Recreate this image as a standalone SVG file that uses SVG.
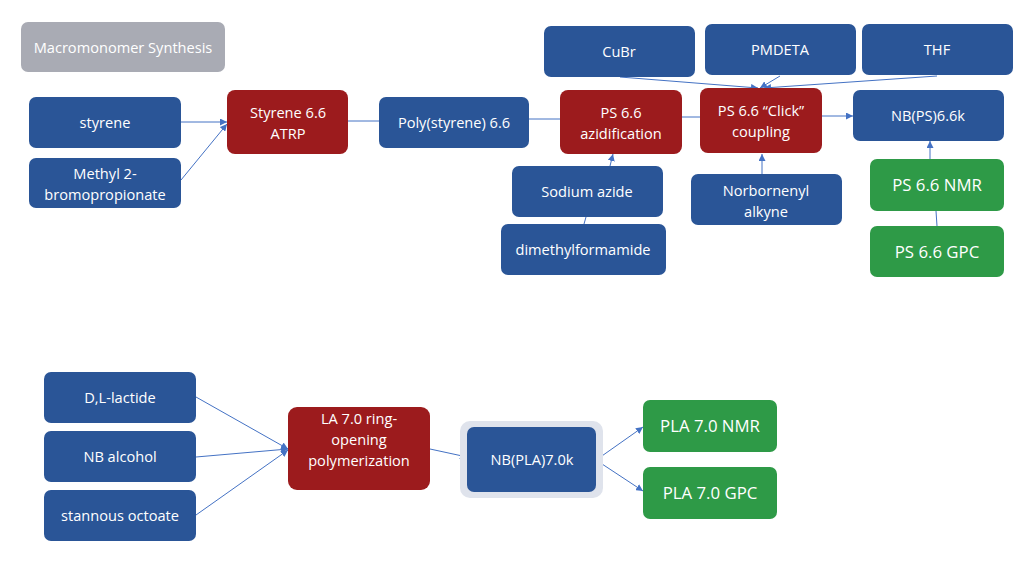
<svg xmlns="http://www.w3.org/2000/svg" width="1024" height="576" viewBox="0 0 1024 576">
<defs>
<style>
.b{fill:#2a5597}
.r{fill:#9c1b1d}
.g{fill:#2e9a47}
.gr{fill:#a9abb4}
text{font-family:"Open Sans","Liberation Sans",sans-serif;font-size:14.6px;fill:#fff;text-anchor:middle}
.big{font-size:16.8px}
.c line{stroke:#4472c4;stroke-width:1}
</style>
<marker id="a" viewBox="0 0 10 10" refX="10" refY="5" markerWidth="7" markerHeight="7" orient="auto" markerUnits="userSpaceOnUse"><path d="M0,0L10,5L0,10z" fill="#4472c4"/></marker>
</defs>
<rect width="1024" height="576" fill="#fff"/>
<g class="c">
<line x1="181" y1="122" x2="227" y2="122" marker-end="url(#a)"/>
<line x1="181" y1="180" x2="227" y2="124" marker-end="url(#a)"/>
<line x1="348" y1="121" x2="379" y2="121"/>
<line x1="529" y1="119" x2="560" y2="119"/>
<line x1="682" y1="117" x2="700" y2="117"/>
<line x1="822" y1="116" x2="853" y2="116" marker-end="url(#a)"/>
<line x1="620" y1="77" x2="758" y2="88" marker-end="url(#a)"/>
<line x1="780" y1="76" x2="760" y2="88" marker-end="url(#a)"/>
<line x1="937" y1="76" x2="764" y2="88" marker-end="url(#a)"/>
<line x1="610" y1="166" x2="613" y2="154" marker-end="url(#a)"/>
<line x1="584" y1="224" x2="586" y2="217"/>
<line x1="762" y1="174" x2="762" y2="154" marker-end="url(#a)"/>
<line x1="930" y1="159" x2="930" y2="141" marker-end="url(#a)"/>
<line x1="937" y1="226" x2="936" y2="211"/>
<line x1="196" y1="397" x2="288" y2="449" marker-end="url(#a)"/>
<line x1="196" y1="457" x2="288" y2="449" marker-end="url(#a)"/>
<line x1="196" y1="515" x2="288" y2="450" marker-end="url(#a)"/>
<line x1="430" y1="449" x2="467" y2="457" marker-end="url(#a)"/>
<line x1="599" y1="458" x2="643" y2="427" marker-end="url(#a)"/>
<line x1="599" y1="462" x2="643" y2="491" marker-end="url(#a)"/>
</g>
<g id="title"><rect class="gr" x="21" y="22" width="204" height="50" rx="7"/><text x="123" y="53">Macromonomer Synthesis</text></g>
<g id="styrene"><rect class="b" x="29" y="97" width="152" height="51" rx="7"/><text x="105" y="128">styrene</text></g>
<g id="methyl"><rect class="b" x="29" y="158" width="152" height="50" rx="7"/><text x="105" y="179">Methyl 2-</text><text x="105" y="200">bromopropionate</text></g>
<g id="atrp"><rect class="r" x="227" y="90" width="121" height="64" rx="8"/><text x="288" y="118">Styrene 6.6</text><text x="288" y="139">ATRP</text></g>
<g id="poly"><rect class="b" x="379" y="97" width="150" height="51" rx="7"/><text x="454" y="128">Poly(styrene) 6.6</text></g>
<g id="azid"><rect class="r" x="560" y="90" width="122" height="64" rx="8"/><text x="621" y="118">PS 6.6</text><text x="621" y="139">azidification</text></g>
<g id="click"><rect class="r" x="700" y="88" width="122" height="65" rx="8"/><text x="761" y="116">PS 6.6 “Click”</text><text x="761" y="137">coupling</text></g>
<g id="nbps"><rect class="b" x="853" y="90" width="151" height="51" rx="7"/><text x="928" y="121">NB(PS)6.6k</text></g>
<g id="cubr"><rect class="b" x="544" y="26" width="151" height="51" rx="7"/><text x="619" y="57">CuBr</text></g>
<g id="pmdeta"><rect class="b" x="705" y="24" width="151" height="51" rx="7"/><text x="780" y="55">PMDETA</text></g>
<g id="thf"><rect class="b" x="862" y="24" width="151" height="51" rx="7"/><text x="937" y="55">THF</text></g>
<g id="sodium"><rect class="b" x="512" y="166" width="151" height="51" rx="7"/><text x="587" y="197">Sodium azide</text></g>
<g id="dmf"><rect class="b" x="501" y="224" width="165" height="51" rx="7"/><text x="583" y="255">dimethylformamide</text></g>
<g id="norb"><rect class="b" x="691" y="174" width="151" height="51" rx="7"/><text x="766" y="196">Norbornenyl</text><text x="766" y="217">alkyne</text></g>
<g id="psnmr"><rect class="g" x="870" y="159" width="134" height="52" rx="7"/><text class="big" x="937" y="191">PS 6.6 NMR</text></g>
<g id="psgpc"><rect class="g" x="870" y="226" width="134" height="51" rx="7"/><text class="big" x="937" y="258">PS 6.6 GPC</text></g>
<g id="lactide"><rect class="b" x="44" y="372" width="152" height="51" rx="7"/><text x="120" y="403">D,L-lactide</text></g>
<g id="nbalc"><rect class="b" x="44" y="431" width="152" height="51" rx="7"/><text x="120" y="462">NB alcohol</text></g>
<g id="stann"><rect class="b" x="44" y="490" width="152" height="51" rx="7"/><text x="120" y="521">stannous octoate</text></g>
<g id="rop"><rect class="r" x="288" y="407" width="142" height="83" rx="9"/><text x="359" y="424">LA 7.0 ring-</text><text x="359" y="445">opening</text><text x="359" y="466">polymerization</text></g>
<g id="nbpla"><rect x="460" y="421" width="143" height="77" rx="10" fill="#dfe3ec"/><rect class="b" x="467" y="427" width="129" height="65" rx="7"/><text x="532" y="465">NB(PLA)7.0k</text></g>
<g id="planmr"><rect class="g" x="643" y="400" width="134" height="52" rx="7"/><text class="big" x="710" y="432">PLA 7.0 NMR</text></g>
<g id="plagpc"><rect class="g" x="643" y="467" width="134" height="52" rx="7"/><text class="big" x="710" y="499">PLA 7.0 GPC</text></g>
</svg>
